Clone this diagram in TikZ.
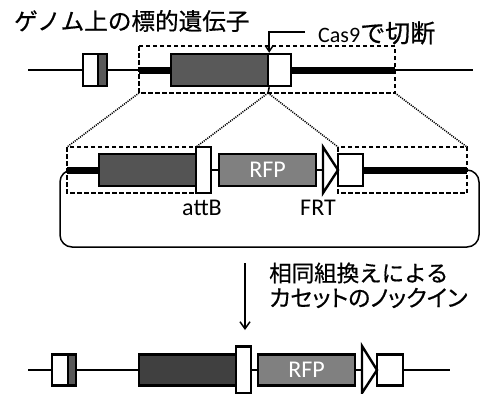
\documentclass[tikz,border=0pt]{standalone}
\usepackage{fontspec}
\setmainfont{Carlito}
\newfontfamily\jp[FakeBold=0.6]{Noto Sans CJK JP}
\newfontfamily\jpp[RawFeature=+palt,FakeBold=0.6]{Noto Sans CJK JP}
\usetikzlibrary{arrows.meta}
\begin{document}
\begin{tikzpicture}[x=1pt,y=-1pt,
  box/.style={draw, line width=2.4pt, inner sep=0pt, minimum height=32pt},
  tallbox/.style={draw, line width=2.4pt, inner sep=0pt, minimum height=46pt, fill=white},
  thinline/.style={line width=1.5pt},
  barline/.style={line width=7pt},
  dashbox/.style={draw, line width=1.1pt, dash pattern=on 4.5pt off 2.5pt},
  dotline/.style={line width=1.5pt, dash pattern=on 1.1pt off 1.1pt},
  tri/.style={draw, line width=2.4pt, fill=white, line join=miter},
  lbl/.style={font=\fontsize{24}{26}\selectfont, inner sep=0pt},
  jtxt/.style={inner sep=0pt, anchor=west, align=left}]
\useasboundingbox (0,0) rectangle (480,394);
% ---------- top row ----------
\coordinate (L1) at (28,70);
\coordinate (R1) at (473,70);
\coordinate (b1l) at (139,70);
\coordinate (b1r) at (395,70);
\node[box, fill=white, minimum width=15pt] (exAw) at (90.5,70) {};
\node[box, fill=black!65, minimum width=9pt] (exAg) at (102.5,70) {};
\node[box, fill=black!65, minimum width=97pt] (gene) at (219.5,70) {};
\node[box, fill=white, minimum width=23pt] (geneW) at (279.5,70) {};
\draw[thinline] (L1) -- (exAw.west);
\draw[thinline] (exAg.east) -- (b1l);
\draw[barline] (b1l) -- (gene.west);
\draw[barline] (geneW.east) -- (b1r);
\draw[thinline] (b1r) -- (R1);
\coordinate (dtl) at (139,46);
\coordinate (dbr) at (395,93);
\draw[dashbox] (dtl) rectangle (dbr);
% Cas9 cut
\node[jtxt] (cas) at (318,33) {{\fontsize{22}{24}\selectfont Cas9}{\jp\fontsize{25}{27}\selectfont で切断}};
\coordinate (casl) at (305,32);
\draw[line width=1.5pt, -{Straight Barb[length=6pt,width=8pt]}] (casl) -| (gene.north east);
\coordinate (cutb) at (268,93);
\draw[line width=1.5pt] (gene.south east) -- (cutb);
% title
\node[jtxt] (title) at (14,21) {\jp\fontsize{23.6}{26}\selectfont ゲノム上の標的遺伝子};
% ---------- middle (donor) ----------
\coordinate (ml) at (67,170);
\coordinate (mr) at (467,170);
\draw[line width=1.5pt, rounded corners=12pt] (60,170) rectangle (479,247);
\node[box, fill=black!67, minimum width=97pt] (arm) at (147.5,170) {};
\node[tallbox, minimum width=15pt] (attB) at (203.5,170) {};
\node[box, fill=black!50, minimum width=97pt, text=white, font=\fontsize{24}{26}\selectfont] (rfp) at (267.5,170) {RFP};
\coordinate (t1a) at (323,147);
\coordinate (t1b) at (323,193);
\coordinate (t1c) at (338,170);
\coordinate (t1m) at (323,170);
\node[box, fill=white, minimum width=25pt] (armW) at (350.5,170) {};
\draw[barline] (ml) -- (arm.west);
\draw[thinline] (attB.east) -- (rfp.west);
\draw[thinline] (rfp.east) -- (t1m);
\draw[barline] (armW.east) -- (mr);
\coordinate (m1a) at (67,147);
\coordinate (m1b) at (196,193);
\coordinate (m2a) at (338,147);
\coordinate (m2b) at (467,193);
\draw[dashbox] (m1a) rectangle (m1b);
\draw[dashbox] (m2a) rectangle (m2b);
\node[box, fill=black!67, minimum width=97pt] at (147.5,170) {};
\node[tallbox, minimum width=15pt] at (203.5,170) {};
\node[box, fill=white, minimum width=25pt] at (350.5,170) {};
\draw[tri] (t1a) -- (t1c) -- (t1b) -- cycle;
\node[lbl] (attBl) at (202,208) {attB};
\node[lbl] (frtl) at (318,208) {FRT};
% dotted zoom lines
\coordinate (dbl) at (139,93);
\draw[dotline] (dbl) -- (m1a);
\draw[dotline] (cutb) -- (196,147);
\draw[dotline] (cutb) -- (m2a);
\draw[dotline] (dbr) -- (467,147);
% ---------- arrow & caption ----------
\coordinate (ar1) at (245,263);
\coordinate (ar2) at (245,330);
\draw[line width=1.5pt, -{Straight Barb[length=7pt,width=10pt]}] (ar1) -- (ar2);
\node[jtxt] (cap1) at (269,273) {\jp\fontsize{22.5}{25}\selectfont 相同組換えによる};
\node[jtxt] (cap2) at (269,298) {\jpp\fontsize{23}{25}\selectfont カセットのノックイン};
% ---------- bottom row ----------
\coordinate (L3) at (28,370);
\coordinate (R3) at (450,370);
\node[box, fill=white, minimum width=16pt, minimum height=31pt] (exBw) at (60,370) {};
\node[box, fill=black!65, minimum width=8pt, minimum height=31pt] (exBg) at (72,370) {};
\node[box, fill=black!75, minimum width=97pt, minimum height=31pt] (gene3) at (187.5,370) {};
\node[tallbox, minimum width=15pt, minimum height=47pt] (attB3) at (243.5,370) {};
\node[box, fill=black!50, minimum width=97pt, minimum height=31pt, text=white, font=\fontsize{24}{26}\selectfont] (rfp3) at (306.5,370) {RFP};
\coordinate (t3a) at (362,346);
\coordinate (t3b) at (362,393);
\coordinate (t3c) at (377,370);
\coordinate (t3m) at (362,370);
\node[box, fill=white, minimum width=26pt, minimum height=31pt] (w3) at (390,370) {};
\draw[tri] (t3a) -- (t3c) -- (t3b) -- cycle;
\draw[thinline] (L3) -- (exBw.west);
\draw[thinline] (exBg.east) -- (gene3.west);
\draw[thinline] (attB3.east) -- (rfp3.west);
\draw[thinline] (rfp3.east) -- (t3m);
\draw[thinline] (w3.east) -- (R3);
\end{tikzpicture}
\end{document}
